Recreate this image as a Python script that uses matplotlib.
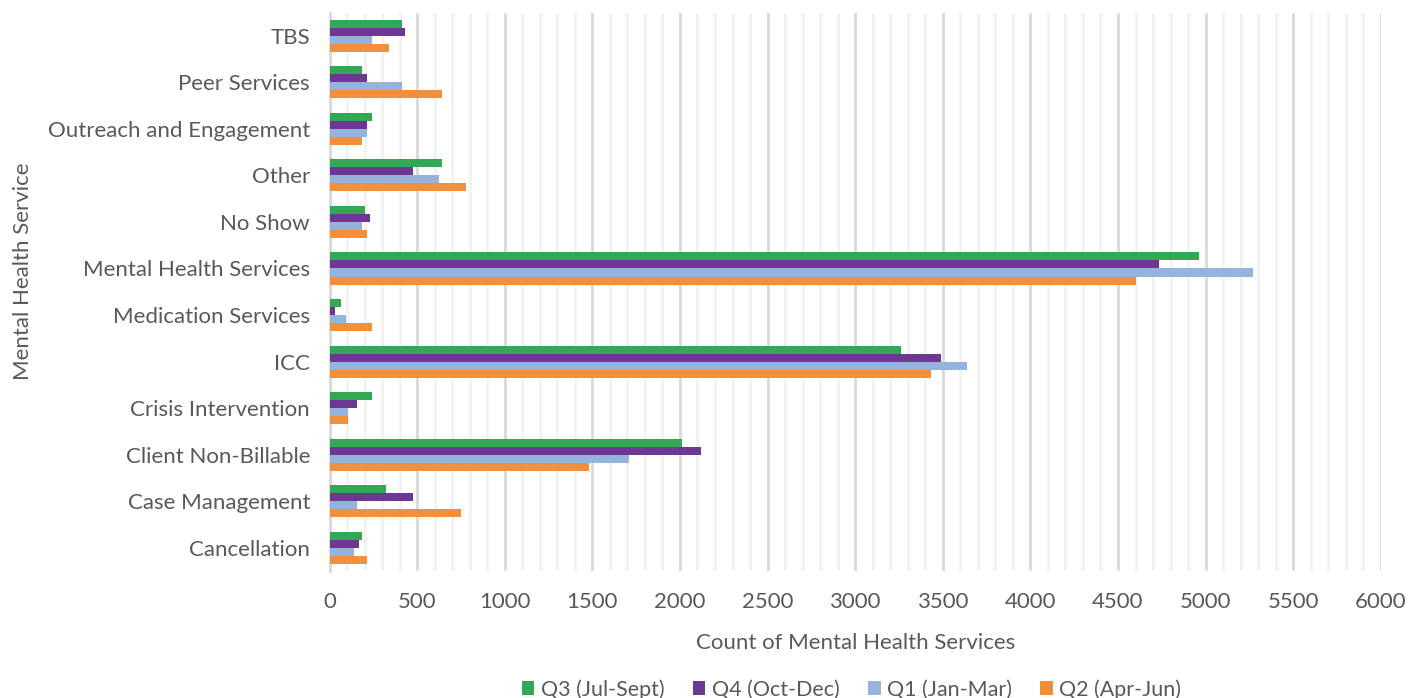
import numpy as np
import matplotlib.pyplot as plt
from matplotlib.ticker import MultipleLocator

plt.rcParams['font.family'] = ['Lato', 'DejaVu Sans']

services = ["Cancellation", "Case Management", "Client Non-Billable", "Crisis Intervention",
            "ICC", "Medication Services", "Mental Health Services", "No Show",
            "Other", "Outreach and Engagement", "Peer Services", "TBS"]

q3_jul_sept = [186, 322, 2012, 245, 3262, 66, 4962, 200, 642, 245, 186, 414]
q4_oct_dec = [170, 474, 2120, 154, 3490, 32, 4736, 231, 474, 216, 216, 429]
q1_jan_mar = [140, 154, 1710, 108, 3640, 96, 5269, 186, 627, 216, 414, 245]
q2_apr_jun = [216, 748, 1481, 108, 3430, 245, 4600, 216, 780, 186, 642, 337]

series = [("Q3 (Jul-Sept)", q3_jul_sept, "#31A853"),
          ("Q4 (Oct-Dec)", q4_oct_dec, "#6C3893"),
          ("Q1 (Jan-Mar)", q1_jan_mar, "#95B4DD"),
          ("Q2 (Apr-Jun)", q2_apr_jun, "#F18F3C")]

txt = "#595959"
fs = 16
fig = plt.figure(figsize=(14.12, 6.98), dpi=100)
ax = fig.add_axes([0.2334, 0.182, 0.7445, 0.8])

y = np.arange(len(services))
h = 0.172
for k, (name, vals, col) in enumerate(series):
    # first series sits at the top of each group
    offs = (1.5 - k) * h
    ax.barh(y + offs, vals, height=h, color=col, label=name, zorder=3)

ax.set_xlim(0, 6000)
ax.set_ylim(-0.5, len(services) - 0.5)
ax.xaxis.set_major_locator(MultipleLocator(500))
ax.xaxis.set_minor_locator(MultipleLocator(100))
ax.grid(axis="x", which="major", color="#D9D9D9", linewidth=2, zorder=0)
ax.grid(axis="x", which="minor", color="#F2F2F2", linewidth=2, zorder=0)
ax.set_axisbelow(True)

ax.set_yticks(y)
ax.set_yticklabels(services)
ax.tick_params(axis="both", which="both", length=0, labelsize=fs, labelcolor=txt)
ax.tick_params(axis="y", pad=14)
ax.tick_params(axis="x", pad=15)

for s in ["top", "right", "bottom"]:
    ax.spines[s].set_visible(False)
ax.spines["left"].set_color("#D9D9D9")
ax.spines["left"].set_linewidth(2)

ax.set_xlabel("Count of Mental Health Services", fontsize=fs, color=txt, labelpad=15)
ax.set_ylabel("Mental Health Service", fontsize=fs, color=txt)
ax.yaxis.set_label_coords(-0.282, 0.536)

fig.legend(loc="lower center", bbox_to_anchor=(0.603, -0.03), ncol=4, frameon=False,
           fontsize=15.5, labelcolor=txt, handlelength=0.6, handleheight=0.6,
           handletextpad=0.3, columnspacing=1.3)

fig.savefig("out.png", dpi=100)
